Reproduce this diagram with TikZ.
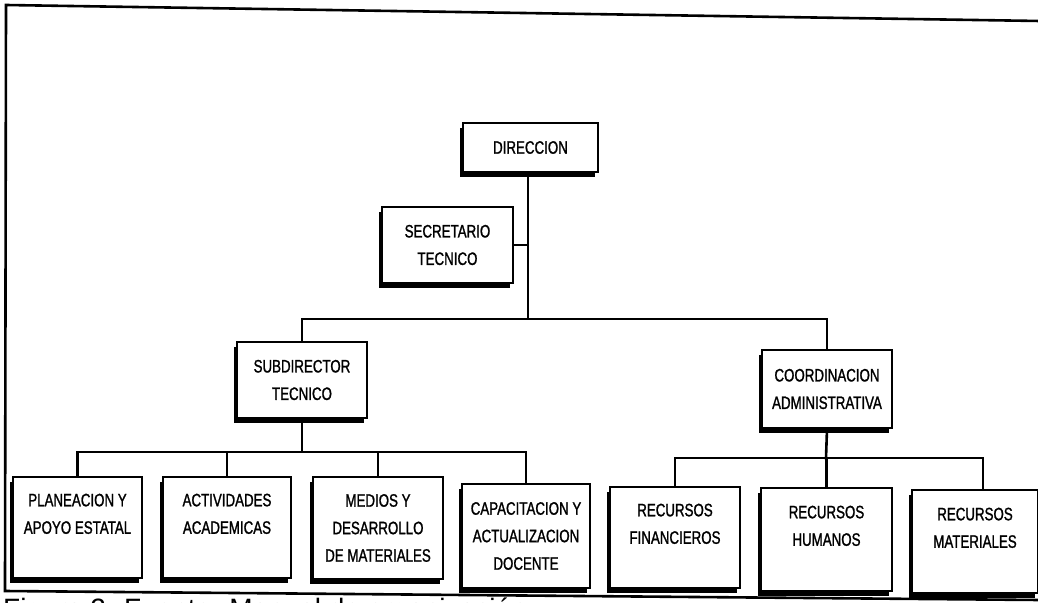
\documentclass[tikz,border=0pt]{standalone}
\usepackage{fontspec}
\setmainfont{Liberation Sans}
\newfontfamily\narrowfont{Liberation Sans}[FakeStretch=0.74, FakeBold=1.2]
\newfontfamily\capfont{Liberation Sans}
\usetikzlibrary{shadows}
\tikzset{
  orgbox/.style={draw=black, line width=1.8pt, fill=white, inner sep=0pt,
    align=center, font=\narrowfont\fontsize{18}{27.5}\selectfont,
    general shadow={shadow xshift=-3.5pt, shadow yshift=-5pt, fill=black}},
  link/.style={draw=black, line width=2.6pt, line cap=rect},
  frame/.style={draw=black, line width=2.6pt}
}
\begin{document}
\begin{tikzpicture}[x=1pt, y=-1pt]
\useasboundingbox (0,0) rectangle (1038,602);
\clip (0,0) rectangle (1038,602);
\fill[white] (0,0) rectangle (1038,602);
% frame
\draw[frame] (1040,21) -- (6,5) -- (5,591) -- (1040,600);
% boxes
\node[orgbox, minimum width=135pt, minimum height=49pt] (dir) at (530.5,147.5) {DIRECCION};
\node[orgbox, minimum width=131pt, minimum height=76pt] (sec) at (447.5,245) {SECRETARIO\\TECNICO};
\node[orgbox, minimum width=130pt, minimum height=76pt] (sub) at (302,380) {SUBDIRECTOR\\TECNICO};
\node[orgbox, minimum width=130pt, minimum height=78pt] (coo) at (827,389) {COORDINACION\\ADMINISTRATIVA};
\node[orgbox, minimum width=129pt, minimum height=101pt] (p1) at (77.5,527.5) {PLANEACION Y\\APOYO ESTATAL\\~};
\node[orgbox, minimum width=128pt, minimum height=101pt] (p2) at (227,527.5) {ACTIVIDADES\\ACADEMICAS\\~};
\node[orgbox, minimum width=130pt, minimum height=102pt] (p3) at (378,528) {MEDIOS Y\\DESARROLLO\\DE MATERIALES};
\node[orgbox, minimum width=128pt, minimum height=104pt] (p4) at (526,536) {CAPACITACION Y\\ACTUALIZACION\\DOCENTE};
\node[orgbox, minimum width=130pt, minimum height=101pt] (r1) at (675,537.5) {RECURSOS\\FINANCIEROS\\~};
\node[orgbox, minimum width=131pt, minimum height=103pt] (r2) at (826.5,539.5) {RECURSOS\\HUMANOS\\~};
\node[orgbox, minimum width=126pt, minimum height=103pt] (r3) at (975,541.5) {RECURSOS\\MATERIALES\\~};
% bus points
\coordinate (b) at (528,319);
\coordinate (sb) at (302,452);
\coordinate (tb) at (826,458);
\coordinate (t3) at (983,458);
% connectors
\draw[link] (dir.south -| b) -- (b);
\draw[link] (sec.east) -- (sec.east -| b);
\draw[link] (sub.north) |- (b) -| (coo.north);
\draw[link] (sub.south) -- (sb);
\draw[link] (p1.north) |- (sb) -| (p4.north);
\draw[link] (p2.north) -- (p2.north |- sb);
\draw[link] (p3.north) -- (p3.north |- sb);
\draw[link] (coo.south) -- (tb);
\draw[link] (r1.north) |- (tb) -| (t3) -- (t3 |- r3.north);
\draw[link] (r2.north) -- (r2.north |- tb);
% caption (cut off at the bottom edge, as in the reference)
\node[anchor=base west, inner sep=0pt, font=\capfont\fontsize{28}{32}\selectfont] (cap) at (3,618) {Figura 2. Fuente: Manual de organización};
\end{tikzpicture}
\end{document}
